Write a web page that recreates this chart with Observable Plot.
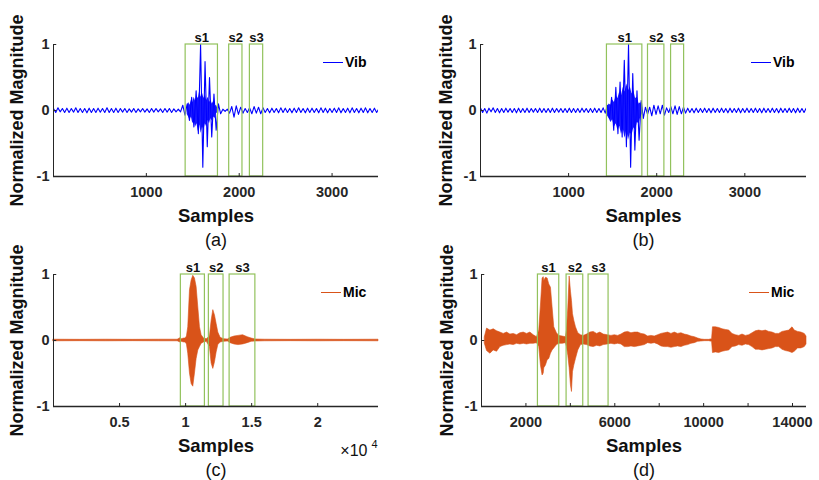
<!DOCTYPE html>
<html><head><meta charset="utf-8">
<script src="https://cdn.jsdelivr.net/npm/d3@7"></script>
<script src="https://cdn.jsdelivr.net/npm/@observablehq/plot@0.6"></script>
<style>
body{margin:0;background:#fff;}
#wrap{position:relative;width:819px;height:480px;overflow:hidden;background:#fff;}
.panel{position:absolute;}
.legend{position:absolute;display:flex;align-items:center;height:18px;font:bold 14px "Liberation Sans",Arial,sans-serif;color:#000;white-space:nowrap;}
.legend .sw{display:inline-block;width:20px;height:0;border-top:1px solid;margin-right:2px;}
</style></head><body><div id="wrap"></div>
<script>
// ---------- data ----------
const vibStep = 24; // samples between successive turning points
const vibA = [
 0.03,-0.03,0.04,-0.02,0.03,-0.03,0.035,-0.03,0.03,-0.025,
 0.04,-0.03,0.03,-0.03,0.03,-0.035,0.035,-0.03,0.03,-0.03,
 0.035,-0.025,0.03,-0.03,0.04,-0.03,0.03,-0.03,0.035,-0.03,
 0.03,-0.025,0.03,-0.03,0.025,-0.025,0.03,-0.03,0.025,-0.02,
 0.03,-0.025,0.025,-0.03,0.03,-0.025,0.03,-0.02,0.025,-0.03,
 0.03,-0.025,0.03,-0.03,0.025,-0.02,0.02,-0.02,
 0.08,-0.07,0.1,-0.15,0.2,-0.25,0.3,-0.35,1.0,-0.86,0.74,-0.55,0.5,-0.4,0.25,-0.3,0.1,-0.05,
 0.02,-0.015,0.02,
 -0.04,0.06,-0.1,0.07,-0.06,0.05,-0.04,
 0.03,-0.03,
 0.04,-0.05,0.06,-0.04,0.05,-0.05,0.04,-0.03,
 0.03,-0.035,0.035,-0.03,0.03,-0.035,0.04,-0.03,0.035,-0.03,
 0.03,-0.035,0.035,-0.03,0.04,-0.03,0.03,-0.035,0.035,-0.03,
 0.035,-0.03,0.03,-0.035,0.04,-0.03,0.035,-0.035,0.03,-0.03,
 0.035,-0.03,0.04,-0.035,0.03,-0.03,0.035,-0.035,0.04,-0.03,
 0.03,-0.035,0.035,-0.03,0.04,-0.035,0.03,-0.03,0.035,-0.03,
 0.03];
const vibA_coreX  = [1440,1455,1470,1485,1500,1515,1530,1545,1560,1575,1590,1605,1620,1635,1650,1665,1680,1695,1710,1725,1740,1755,1770];
const vibA_coreHi = [0.06,0.12,0.08,0.15,0.12,0.2,0.14,0.22,0.18,0.3,0.2,0.26,0.18,0.24,0.15,0.2,0.12,0.16,0.1,0.14,0.06,0.08,0.03];
const vibA_coreLo = [-0.06,-0.1,-0.14,-0.1,-0.2,-0.15,-0.25,-0.2,-0.32,-0.22,-0.35,-0.25,-0.3,-0.2,-0.25,-0.15,-0.2,-0.12,-0.16,-0.1,-0.12,-0.05,-0.03];

const vibB = [
 0.04,-0.03,0.03,-0.04,0.035,-0.02,0.04,-0.03,0.03,-0.035,
 0.03,-0.03,0.035,-0.025,0.03,-0.03,0.03,-0.035,0.035,-0.03,
 0.03,-0.03,0.035,-0.03,0.03,-0.025,0.03,-0.03,0.035,-0.03,
 0.03,-0.03,0.03,-0.03,0.035,-0.03,0.03,-0.025,0.03,-0.03,
 0.03,-0.03,0.035,-0.03,0.03,-0.03,0.03,-0.03,0.035,-0.025,
 0.03,-0.03,0.03,-0.03,0.035,-0.03,0.03,-0.03,0.04,-0.04,
 0.08,-0.12,0.2,-0.3,0.35,-0.35,0.43,-0.4,0.76,-0.55,1.0,-0.86,0.56,-0.6,0.3,-0.45,0.15,-0.12,0.05,
 -0.06,0.05,-0.08,0.08,-0.06,0.07,-0.05,0.08,-0.07,0.04,-0.03,0.06,-0.05,0.07,-0.06,0.06,-0.05,0.05,-0.04,
 0.035,-0.03,0.03,-0.035,0.035,-0.03,0.03,-0.03,0.035,-0.03,
 0.03,-0.035,0.035,-0.03,0.03,-0.03,0.035,-0.03,0.03,-0.035,
 0.035,-0.03,0.03,-0.03,0.035,-0.035,0.03,-0.03,0.035,-0.03,
 0.03,-0.03,0.035,-0.03,0.03,-0.035,0.035,-0.03,0.03,-0.03,
 0.035,-0.03,0.03,-0.035,0.035,-0.03,0.03,-0.03,0.035,-0.03,
 0.03,-0.035,0.035,-0.03,0.03,-0.03,0.035,-0.03];
const vibB_coreX  = [1440,1460,1480,1500,1520,1540,1560,1580,1600,1620,1640,1660,1680,1700,1720,1740,1760,1780,1800,1820,1840];
const vibB_coreHi = [0.05,0.1,0.08,0.16,0.12,0.22,0.18,0.28,0.22,0.35,0.28,0.4,0.3,0.36,0.25,0.3,0.18,0.2,0.1,0.12,0.04];
const vibB_coreLo = [-0.08,-0.12,-0.18,-0.14,-0.25,-0.2,-0.3,-0.24,-0.36,-0.28,-0.42,-0.3,-0.45,-0.34,-0.38,-0.26,-0.3,-0.18,-0.2,-0.1,-0.05];

const micC_x  = [0,2000,4000,6000,8000,9400,9600,9700,9900,10000,10100,10200,10330,10455,10580,10707,10833,10960,11086,11212,11386,11600,11840,11970,12096,12222,12348,12475,12652,12900,13200,13400,13700,14000,14350,14700,15000,15300,16000,18000,20000,22000,24600];
const micC_hi = [0.012,0.01,0.012,0.01,0.012,0.012,0.035,0.02,0.03,0.03,0.06,0.2,0.76,0.91,0.98,0.94,0.81,0.5,0.2,0.08,0.03,0.02,0.06,0.3,0.46,0.38,0.25,0.12,0.04,0.02,0.015,0.04,0.06,0.07,0.08,0.05,0.03,0.015,0.012,0.01,0.012,0.01,0.012];
const micC_lo = [-0.012,-0.01,-0.012,-0.01,-0.012,-0.012,-0.03,-0.02,-0.03,-0.03,-0.06,-0.2,-0.5,-0.66,-0.7,-0.5,-0.28,-0.15,-0.1,-0.05,-0.03,-0.02,-0.1,-0.35,-0.43,-0.33,-0.18,-0.07,-0.03,-0.02,-0.015,-0.04,-0.06,-0.07,-0.06,-0.04,-0.02,-0.015,-0.012,-0.01,-0.012,-0.01,-0.012];

const micD_x  = [150,250,400,550,700,850,1000,1150,1300,1450,
 1600,1750,1900,2050,2200,2350,2500,2600,2676,2750,
 2800,2826,2900,2977,3050,3126,3200,3275,3396,3500,
 3650,3800,3847,3908,3968,4027,4072,4117,4177,4252,
 4357,4477,4600,4750,4900,5050,5200,5350,5500,5680,
 5850,6000,6150,6300,6450,6600,6750,6900,7050,7200,
 7350,7500,7650,7800,7950,8100,8250,8400,8550,8700,
 8850,9000,9150,9300,9450,9600,9750,9900,10050,10250,
 10380,10420,10550,10700,10850,11000,11150,11300,11450,11600,
 11750,11900,12050,12200,12350,12500,12650,12800,12950,13100,
 13250,13400,13550,13700,13850,14000,14100,14250,14400,14550,
 14630];
const micD_hi = [0.05,0.18,0.15,0.17,0.14,0.12,0.1,0.12,0.09,0.1,
 0.08,0.11,0.12,0.1,0.12,0.08,0.05,0.15,0.53,0.94,
 0.96,0.9,0.95,0.94,0.85,0.8,0.5,0.2,0.11,0.07,
 0.06,0.05,0.15,0.5,0.97,0.74,0.6,0.4,0.3,0.2,
 0.11,0.08,0.07,0.09,0.12,0.13,0.1,0.12,0.09,0.08,
 0.07,0.08,0.07,0.09,0.12,0.13,0.11,0.12,0.12,0.1,
 0.09,0.06,0.07,0.06,0.08,0.1,0.11,0.12,0.1,0.12,
 0.1,0.11,0.09,0.08,0.06,0.05,0.03,0.015,0.01,0.01,
 0.02,0.2,0.2,0.19,0.17,0.16,0.15,0.1,0.08,0.07,
 0.09,0.07,0.08,0.11,0.14,0.15,0.14,0.15,0.13,0.12,
 0.1,0.1,0.13,0.14,0.15,0.2,0.15,0.13,0.12,0.1,
 0.06];
const micD_lo = [-0.05,-0.16,-0.2,-0.15,-0.17,-0.1,-0.08,-0.07,-0.06,-0.07,
 -0.05,-0.06,-0.05,-0.06,-0.05,-0.05,-0.04,-0.1,-0.38,-0.53,
 -0.5,-0.42,-0.38,-0.3,-0.28,-0.2,-0.15,-0.12,-0.07,-0.05,
 -0.05,-0.04,-0.1,-0.23,-0.42,-0.68,-0.78,-0.48,-0.38,-0.28,
 -0.15,-0.07,-0.06,-0.07,-0.09,-0.1,-0.08,-0.09,-0.07,-0.06,
 -0.05,-0.06,-0.05,-0.06,-0.1,-0.1,-0.09,-0.1,-0.09,-0.08,
 -0.07,-0.04,-0.05,-0.04,-0.06,-0.09,-0.1,-0.1,-0.11,-0.1,
 -0.09,-0.1,-0.08,-0.07,-0.05,-0.04,-0.02,-0.015,-0.01,-0.01,
 -0.02,-0.19,-0.18,-0.19,-0.17,-0.16,-0.15,-0.1,-0.09,-0.07,
 -0.08,-0.06,-0.07,-0.1,-0.14,-0.14,-0.15,-0.14,-0.13,-0.12,
 -0.1,-0.1,-0.14,-0.16,-0.17,-0.19,-0.17,-0.12,-0.12,-0.1,
 -0.06];

const boxLabels = ["s1","s2","s3"];
const boxA_start = [1423,1892,2115], boxA_end = [1771,2035,2258];
const boxB_start = [1435,1901,2163], boxB_end = [1837,2087,2311];
const boxC_start = [9640,11760,13330], boxC_end = [11460,12870,15280];
const boxD_start = [2540,3830,4820], boxD_end = [3500,4580,5720];

const yTicks = [-1, 0, 1];
const xTicksAB = [1000, 2000, 3000];
const xTicksC = [5000, 10000, 15000, 20000];
const xTicksD = [2000, 6000, 10000, 14000];
const xTickMarksD = [2000, 4000, 6000, 8000, 10000, 12000, 14000];

// ---------- styling ----------
const blue = "#0000ff", orange = "#d95319", green = "#92c25c", axisColor = "#262626";
const FONT = "'Liberation Sans', Arial, Helvetica, sans-serif";
const plain = d => (d < 0 ? "-" + Math.abs(d) : String(d));

function makePanel(o) {
  const [x0, x1] = o.xDomain;
  const boxes = o.boxStart.map((s, i) => ({s, e: o.boxEnd[i], label: boxLabels[i]}));
  const marks = [
    ...o.dataMarks,
    Plot.rect(boxes, {x1: "s", x2: "e", y1: -1, y2: 1, fill: "none", stroke: green, strokeWidth: 1.2}),
    Plot.text(boxes, {x: d => (d.s + d.e) / 2, y: 1, text: "label", lineAnchor: "bottom", dy: -3, fontSize: 13, fontWeight: "bold", fill: "#111"}),
    Plot.ruleY([-1], {stroke: axisColor, strokeWidth: 1.3}),
    Plot.ruleX([x0], {y1: -1, y2: 1, stroke: axisColor}),
    Plot.ruleX(o.xTickMarks, {y1: -1, y2: -0.955, stroke: axisColor}),
    Plot.ruleY(yTicks, {x1: x0, x2: x0 + (x1 - x0) * 0.01, stroke: axisColor}),
    Plot.axisX(o.xTicks, {tickSize: 0, tickPadding: 10, tickFormat: o.xTickFormat, label: null, fontSize: 14.5, fontWeight: "bold", fill: axisColor}),
    Plot.axisY(yTicks, {tickSize: 0, tickPadding: 4, tickFormat: plain, label: null, fontSize: 14.5, fontWeight: "bold", fill: axisColor}),
    Plot.text(["Samples"], {frameAnchor: "bottom", textAnchor: "middle", lineAnchor: "middle", dy: 40, fontSize: 18.5, fontWeight: "bold", fill: "#111"}),
    Plot.text([o.letter], {frameAnchor: "bottom", textAnchor: "middle", lineAnchor: "middle", dy: 64, fontSize: 18, fontWeight: "normal", fill: "#111"}),
    Plot.text(["Normalized Magnitude"], {frameAnchor: "left", textAnchor: "middle", lineAnchor: "middle", dx: o.yLabelDx, rotate: -90, fontSize: 18, fontWeight: "bold", fill: "#111"}),
    ...(o.extraMarks || [])
  ];
  const svg = Plot.plot({
    width: o.width, height: o.height,
    marginLeft: o.ml, marginRight: o.mr, marginTop: o.mt, marginBottom: o.mb,
    x: {domain: o.xDomain, label: null},
    y: {domain: [-1, 1], label: null},
    style: {fontFamily: FONT, fontSize: "14px", background: "transparent", overflow: "visible"},
    marks
  });
  const div = document.createElement("div");
  div.className = "panel";
  div.style.left = o.left + "px";
  div.style.top = o.top + "px";
  div.appendChild(svg);
  document.getElementById("wrap").appendChild(div);
  const lg = document.createElement("div");
  lg.className = "legend";
  lg.style.left = o.legendLeft + "px";
  lg.style.top = o.legendTop + "px";
  lg.innerHTML = `<span class="sw" style="border-color:${o.legendColor}"></span><span>${o.legendText}</span>`;
  document.getElementById("wrap").appendChild(lg);
}

const wave = arr => arr.map((y, i) => ({x: i * vibStep, y}));
const band = (xs, hi, lo) => xs.map((x, i) => ({x, hi: hi[i], lo: lo[i]}));

// (a)
makePanel({
  left: 0, top: 0, width: 410, height: 250, ml: 53, mr: 32, mt: 44, mb: 74,
  xDomain: [0, 3500], xTicks: xTicksAB, xTickMarks: xTicksAB, xTickFormat: plain,
  boxStart: boxA_start, boxEnd: boxA_end, letter: "(a)", yLabelDx: -36,
  legendText: "Vib", legendColor: blue, legendLeft: 323, legendTop: 53,
  dataMarks: [
    Plot.areaY(band(vibA_coreX, vibA_coreHi, vibA_coreLo), {x: "x", y1: "lo", y2: "hi", fill: blue, fillOpacity: 0.9}),
    Plot.line(wave(vibA), {x: "x", y: "y", stroke: blue, strokeWidth: 1.1, clip: true})
  ]
});
// (b)
makePanel({
  left: 410, top: 0, width: 409, height: 250, ml: 70, mr: 13, mt: 44, mb: 74,
  xDomain: [0, 3700], xTicks: xTicksAB, xTickMarks: xTicksAB, xTickFormat: plain,
  boxStart: boxB_start, boxEnd: boxB_end, letter: "(b)", yLabelDx: -34,
  legendText: "Vib", legendColor: blue, legendLeft: 751, legendTop: 53,
  dataMarks: [
    Plot.areaY(band(vibB_coreX, vibB_coreHi, vibB_coreLo), {x: "x", y1: "lo", y2: "hi", fill: blue, fillOpacity: 0.9}),
    Plot.line(wave(vibB), {x: "x", y: "y", stroke: blue, strokeWidth: 1.1, clip: true})
  ]
});
// (c)
makePanel({
  left: 0, top: 250, width: 410, height: 230, ml: 53, mr: 32, mt: 24, mb: 74,
  xDomain: [0, 24600], xTicks: xTicksC, xTickMarks: xTicksC, xTickFormat: d => plain(d / 1e4),
  boxStart: boxC_start, boxEnd: boxC_end, letter: "(c)", yLabelDx: -36,
  legendText: "Mic", legendColor: orange, legendLeft: 321, legendTop: 283,
  dataMarks: [
    Plot.areaY(band(micC_x, micC_hi, micC_lo), {x: "x", y1: "lo", y2: "hi", fill: orange, stroke: orange, strokeWidth: 0.6})
  ],
  extraMarks: [
    Plot.text(["×10"], {frameAnchor: "bottom-right", textAnchor: "end", lineAnchor: "middle", dx: -11, dy: 44, fontSize: 16, fontWeight: "normal", fill: "#111"}),
    Plot.text(["4"], {frameAnchor: "bottom-right", textAnchor: "end", lineAnchor: "middle", dx: -1, dy: 38, fontSize: 11, fontWeight: "normal", fill: "#111"})
  ]
});
// (d)
makePanel({
  left: 410, top: 250, width: 409, height: 230, ml: 71, mr: 13, mt: 24, mb: 74,
  xDomain: [0, 14630], xTicks: xTicksD, xTickMarks: xTickMarksD, xTickFormat: plain,
  boxStart: boxD_start, boxEnd: boxD_end, letter: "(d)", yLabelDx: -34,
  legendText: "Mic", legendColor: orange, legendLeft: 749, legendTop: 283,
  dataMarks: [
    Plot.areaY(band(micD_x, micD_hi, micD_lo), {x: "x", y1: "lo", y2: "hi", fill: orange, stroke: orange, strokeWidth: 0.6})
  ]
});
</script></body></html>
